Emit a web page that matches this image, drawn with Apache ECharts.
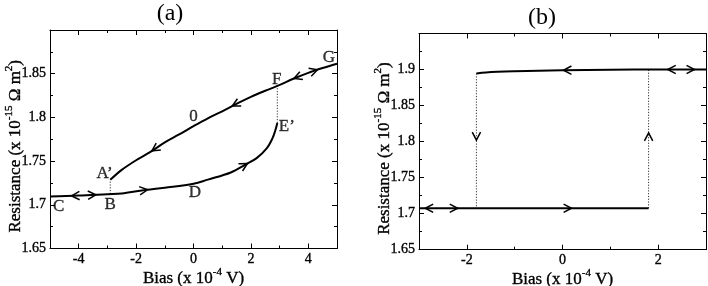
<!DOCTYPE html>
<html><head><meta charset="utf-8">
<script src="https://cdn.jsdelivr.net/npm/echarts@6/dist/echarts.min.js"></script>
<style>html,body{margin:0;padding:0;background:#fff}#c{width:708px;height:286px}</style>
</head><body><div id="c"></div>
<script>
const FONT = '"Liberation Serif", "Times New Roman", serif';

// ---------- Panel (a) data ----------
const aUpper = [[-2.9,1.7286],[-2.5,1.740],[-2,1.751],[-1.5,1.7605],[-1,1.7715],[-0.5,1.7805],[0,1.790],[0.5,1.799],[1,1.807],[1.5,1.8155],[2,1.8235],[2.5,1.8305],[2.92,1.836],[3.5,1.8445],[4,1.851],[4.5,1.8565],[5,1.8614]];
const aLower = [[-5,1.7095],[-4,1.7105],[-3,1.7122],[-2.5,1.713],[-1.8,1.7164],[-1,1.7195],[0,1.724],[0.5,1.7288],[1.3,1.737],[1.8,1.7458],[2.2,1.7534],[2.55,1.7645],[2.75,1.776],[2.85,1.785],[2.92,1.7936]];
const aDottedLeft = [[-2.9,1.7124],[-2.9,1.7286]];
const aDottedRight = [[2.92,1.7936],[2.92,1.836]];
const aArrowsUpper = [[-1.45,-1],[1.35,-1],[3.5,-1],[4.32,1]];
const aArrowsLower = [[-4.25,-1],[-3.4,1],[-1.6,1],[1.88,1]];
const aLabels = [['C',-4.7,1.698],['B',-2.9,1.700],['A\u2019',-3.1,1.736],['D',0.05,1.7135],['0',0.0,1.801],['E\u2019',3.25,1.790],['F',2.9,1.843],['G',4.72,1.868]];
const aXMajor = [-4,-2,0,2,4];
const aXMinor = [-3,-1,1,3];

// ---------- Panel (b) data ----------
const bUpper = [[-1.8,1.8945],[-1.6,1.896],[-1,1.8975],[0,1.899],[1,1.8997],[2,1.9],[3,1.9]];
const bLower = [[-3,1.7075],[1.8,1.7075]];
const bDottedLeft = [[-1.8,1.8945],[-1.8,1.7075]];
const bDottedRight = [[1.8,1.7075],[1.8,1.9]];
const bArrowsUpper = [[0.02,-1],[2.2,-1],[2.76,1]];
const bArrowsLower = [[-2.87,-1],[-2.19,1],[0.19,1]];
const bArrowsVert = [[-1.8,1.802,-1],[1.8,1.812,1]];
const bXMajor = [-2,0,2];
const bXMinor = [-1,1];

function interp(curve, x){
  for (let i=0;i<curve.length-1;i++){
    const [x0,y0]=curve[i],[x1,y1]=curve[i+1];
    if (x>=x0 && x<=x1){ const t=(x-x0)/((x1-x0)||1); return y0+t*(y1-y0); }
  }
  return x<curve[0][0]?curve[0][1]:curve[curve.length-1][1];
}
function curveArrows(curve, list){
  return list.map(([x,d])=>{ const bx=x-d*0.12; return [x,interp(curve,x),bx,interp(curve,bx)]; });
}
function vertArrows(list){
  return list.map(([x,y,d])=>[x,y,x,y-d*0.01]);
}
function arrowItem(params, api){
  const tip = api.coord([api.value(0), api.value(1)]);
  const back = api.coord([api.value(2), api.value(3)]);
  let ux=back[0]-tip[0], uy=back[1]-tip[1];
  const len=Math.hypot(ux,uy)||1; ux/=len; uy/=len;
  const L=9, a=0.48, c=Math.cos(a), s=Math.sin(a);
  const p1=[tip[0]+L*(ux*c-uy*s), tip[1]+L*(ux*s+uy*c)];
  const p2=[tip[0]+L*(ux*c+uy*s), tip[1]+L*(-ux*s+uy*c)];
  return {type:'polyline', shape:{points:[p1,tip,p2]}, style:{stroke:'#000', lineWidth:1.5, fill:null}};
}

const TB = {textBorderColor:'#000',textBorderWidth:0.35};
const richName = {
  n:{fontFamily:FONT,fontSize:17,color:'#000',lineHeight:24,...TB},
  s:{fontFamily:FONT,fontSize:11,color:'#000',lineHeight:11,verticalAlign:'top',...TB}
};
const axisLineStyle = {show:true,onZero:false,lineStyle:{color:'#000',width:1}};

function xAxes(grid,min,max,major,minor){
  const base={gridIndex:grid,type:'value',min,max,splitLine:{show:false}};
  return [
    {...base,position:'bottom',axisLine:axisLineStyle,
      axisTick:{inside:true,length:5,customValues:major,lineStyle:{color:'#000'}},
      axisLabel:{customValues:major,fontFamily:FONT,fontSize:14,color:'#000',margin:4,...TB},
      name:'{n|Bias (x 10}{s|-4}{n| V)}',nameLocation:'middle',nameGap:18,nameMoveOverlap:false,
      nameTextStyle:{rich:richName}},
    {...base,position:'bottom',axisLine:{show:false},
      axisTick:{inside:true,length:3,customValues:minor,lineStyle:{color:'#000'}},axisLabel:{show:false}},
    {...base,position:'top',axisLine:axisLineStyle,
      axisTick:{inside:true,length:5,customValues:major,lineStyle:{color:'#000'}},axisLabel:{show:false}},
    {...base,position:'top',axisLine:{show:false},
      axisTick:{inside:true,length:3,customValues:minor,lineStyle:{color:'#000'}},axisLabel:{show:false}}
  ];
}
function yAxes(grid,min,max){
  const base={gridIndex:grid,type:'value',min,max,interval:0.05,splitLine:{show:false},
    axisLine:axisLineStyle,
    axisTick:{inside:true,length:5,lineStyle:{color:'#000'}},
    minorTick:{show:true,splitNumber:2,length:3,lineStyle:{color:'#000'}}};
  return [
    {...base,position:'left',
      axisLabel:{fontFamily:FONT,fontSize:14,color:'#000',margin:4,showMaxLabel:false,...TB,
        formatter:v=>String(+v.toFixed(2))},
      name:'{n|Resistance (x 10}{s|-15}{n| \u03A9 m}{s|2}{n|)}',nameLocation:'middle',nameRotate:90,nameGap:22,nameMoveOverlap:false,
      nameTextStyle:{rich:richName,padding:[0,14,0,0]}},
    {...base,position:'right',axisLabel:{show:false}}
  ];
}

function lineSeries(data,xi,yi,dotted){
  return {type:'line',xAxisIndex:xi,yAxisIndex:yi,data,symbol:'none',smooth:dotted?false:0.35,
    lineStyle:dotted?{color:'#333',width:1,type:[1.2,1.6]}:{color:'#000',width:2},
    silent:true,animation:false,z:dotted?2:3};
}
function arrowSeries(data,xi,yi){
  return {type:'custom',xAxisIndex:xi,yAxisIndex:yi,data,renderItem:arrowItem,
    encode:{x:[0,2],y:[1,3]},silent:true,animation:false,z:5};
}
function labelSeries(list,xi,yi){
  return {type:'scatter',xAxisIndex:xi,yAxisIndex:yi,symbolSize:0,itemStyle:{color:'#000'},
    data:list.map(([t,x,y])=>({name:t,value:[x,y]})),
    label:{show:true,position:'inside',formatter:p=>p.name,fontFamily:FONT,fontSize:17,color:'#000',...TB},
    silent:true,animation:false,z:6};
}

const chart = echarts.init(document.getElementById('c'),null,{renderer:'canvas'});
chart.setOption({
  animation:false,
  backgroundColor:'#fff',
  graphic:[
    {type:'text',x:170,y:14,style:{text:'(a)',fontFamily:FONT,fontSize:24,fill:'#000',align:'center',verticalAlign:'middle'}},
    {type:'text',x:542,y:18,style:{text:'(b)',fontFamily:FONT,fontSize:24,fill:'#000',align:'center',verticalAlign:'middle'}}
  ],
  grid:[
    {left:50,top:30,width:287,height:218.5,outerBoundsMode:'none',containLabel:false},
    {left:419,top:33.5,width:287,height:216.2,outerBoundsMode:'none',containLabel:false}
  ],
  xAxis:[...xAxes(0,-5,5,aXMajor,aXMinor),...xAxes(1,-3,3,bXMajor,bXMinor)],
  yAxis:[...yAxes(0,1.65,1.9),...yAxes(1,1.65,1.95)],
  series:[
    lineSeries(aUpper,0,0,false),
    lineSeries(aLower,0,0,false),
    lineSeries(aDottedLeft,0,0,true),
    lineSeries(aDottedRight,0,0,true),
    arrowSeries(curveArrows(aUpper,aArrowsUpper),0,0),
    arrowSeries(curveArrows(aLower,aArrowsLower),0,0),
    labelSeries(aLabels,0,0),
    lineSeries(bUpper,4,2,false),
    lineSeries(bLower,4,2,false),
    lineSeries(bDottedLeft,4,2,true),
    lineSeries(bDottedRight,4,2,true),
    arrowSeries(curveArrows(bUpper,bArrowsUpper),4,2),
    arrowSeries(curveArrows(bLower,bArrowsLower),4,2),
    arrowSeries(vertArrows(bArrowsVert),4,2)
  ]
});
</script></body></html>
